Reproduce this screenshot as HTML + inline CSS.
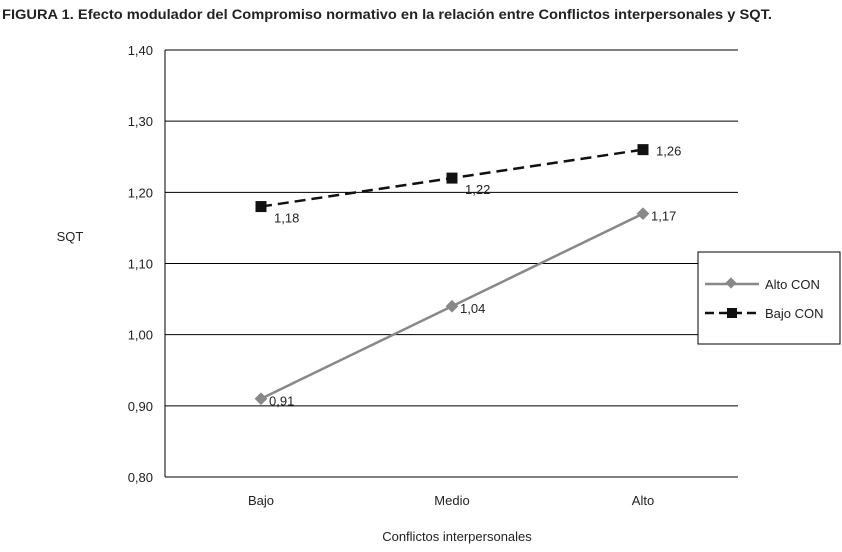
<!DOCTYPE html>
<html><head><meta charset="utf-8"><style>
body{margin:0;background:#fff;width:842px;height:547px;overflow:hidden;font-family:"Liberation Sans",sans-serif;}
</style></head><body>
<svg width="842" height="547" font-family="Liberation Sans, sans-serif">
<text x="2" y="19" font-size="13.5" font-weight="bold" fill="#222" textLength="770" lengthAdjust="spacingAndGlyphs">FIGURA 1. Efecto modulador del Compromiso normativo en la relación entre Conflictos interpersonales y SQT.</text>
<g id="grid"></g><g id="marks"></g>
<text x="70" y="241" font-size="13" text-anchor="middle" fill="#222">SQT</text>
<text x="457" y="541" font-size="13" text-anchor="middle" fill="#222">Conflictos interpersonales</text>
<g>
<rect x="698" y="252" width="142" height="92" fill="#fff" stroke="#000" stroke-width="1"/>
<line x1="705" y1="284" x2="759" y2="284" stroke="#888" stroke-width="2.5"/>
<rect x="727" y="279" width="8" height="8" fill="#888" transform="rotate(45 731 283)"/>
<text x="765" y="289" font-size="13" fill="#222">Alto CON</text>
<line x1="705" y1="313" x2="759" y2="313" stroke="#111" stroke-width="2.5" stroke-dasharray="9,5"/>
<rect x="727" y="308" width="10" height="10" fill="#111"/>
<text x="765" y="318" font-size="13" fill="#222">Bajo CON</text>
</g>
</svg>
<script>
const categories=["Bajo","Medio","Alto"];
const altoCON=[0.91,1.04,1.17];
const bajoCON=[1.18,1.22,1.26];
const yTicks=[0.8,0.9,1.0,1.1,1.2,1.3,1.4];
const NS="http://www.w3.org/2000/svg";
const x0=165,x1=738,yTop=50,yBot=477;
function yS(v){return yBot-(v-0.8)/0.6*(yBot-yTop);}
function xS(i){return 261+i*191;}
function mk(t,a,p){const e=document.createElementNS(NS,t);for(const k in a)e.setAttribute(k,a[k]);(p||document.getElementById('marks')).appendChild(e);return e;}
const grid=document.getElementById('grid');
yTicks.forEach(v=>{
 const l=mk('line',{x1:x0,x2:x1,y1:yS(v),y2:yS(v),stroke:'#000','stroke-width':1},grid);
 
 
 const t=mk('text',{x:153,y:yS(v)+5,'font-size':13,'text-anchor':'end',fill:'#222'},grid);
 t.textContent=v.toFixed(2).replace('.',',');
 
 
});
const ax=mk('line',{x1:x0,x2:x0,y1:yTop,y2:yBot,stroke:'#000','stroke-width':1},grid);


categories.forEach((c,i)=>{
 const t=mk('text',{x:xS(i),y:505,'font-size':13,'text-anchor':'middle',fill:'#222'},grid);
 t.textContent=c;
 
 
});
const pa=mk('polyline',{points:altoCON.map((v,i)=>xS(i)+','+yS(v)).join(' '),fill:'none',stroke:'#888','stroke-width':2.5});


const pb=mk('polyline',{points:bajoCON.map((v,i)=>xS(i)+','+yS(v)).join(' '),fill:'none',stroke:'#111','stroke-width':2.5,'stroke-dasharray':'11,6'});


altoCON.forEach((v,i)=>{
 const x=xS(i),y=yS(v);
 const r=mk('rect',{x:x-4.5,y:y-4.5,width:9,height:9,fill:'#888',transform:`rotate(45 ${x} ${y})`});
 
 
 const t=mk('text',{x:x+8,y:y+7,'font-size':13,fill:'#222'});
 t.textContent=v.toFixed(2).replace('.',',');
 
 
});
bajoCON.forEach((v,i)=>{
 const x=xS(i),y=yS(v);
 const r=mk('rect',{x:x-5.5,y:y-5.5,width:11,height:11,fill:'#111'});
 
 
 const t=mk('text',{x:x+13,y:y+(i==2?6:16),'font-size':13,fill:'#222'});
 t.textContent=v.toFixed(2).replace('.',',');
 
 
});
</script>
</body></html>
